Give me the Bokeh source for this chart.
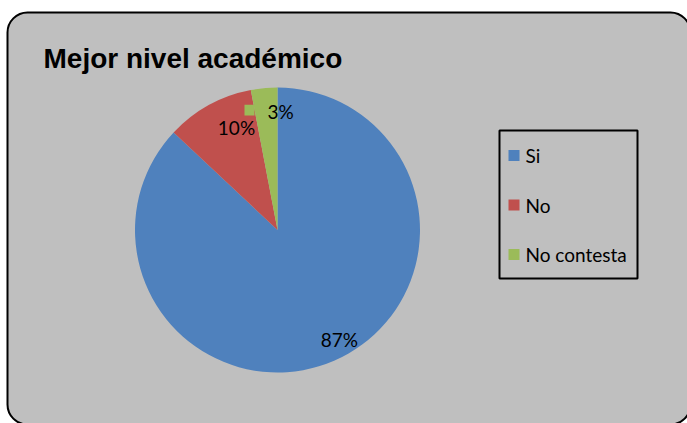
import math
from bokeh.plotting import figure
from bokeh.models import Range1d, BoxAnnotation, Label, ColumnDataSource
from bokeh.core.properties import value
from bokeh.embed import file_html
from bokeh.resources import INLINE

# ---- data ----
categories = ["Si", "No", "No contesta"]
percents = [87, 10, 3]
colors = ["#4F81BD", "#C0504D", "#9BBB59"]
pct_labels = ["87%", "10%", "3%"]
title_text = "Mejor nivel académico"

W, H = 687, 423
p = figure(width=W, height=H, output_backend="svg", toolbar_location=None,
           x_range=Range1d(0, W), y_range=Range1d(0, H),
           x_axis_type=None, y_axis_type=None, min_border=0)
p.grid.visible = False
p.outline_line_color = None
p.background_fill_color = "white"
p.border_fill_color = "white"


def py(y):  # page y (from top) -> data y
    return H - y


# chart area (rounded box)
p.add_layout(BoxAnnotation(left=7, right=690, top=py(12), bottom=py(424),
                           fill_color="#BFBFBF", fill_alpha=1,
                           line_color="black", line_alpha=1, line_width=2,
                           border_radius=20, level="underlay"))

# title
p.add_layout(Label(x=43, y=py(57.5), text=title_text, text_font="Liberation Sans",
                   text_font_style="bold", text_font_size="28px",
                   text_color="black", text_baseline="alphabetic"))

# pie
cx, cy, r = 277, py(229.5), 142.5
total = sum(percents)
starts, ends, mids = [], [], []
acc = 0.0
for v in percents:
    a0 = math.pi / 2 - 2 * math.pi * acc / total
    acc += v
    a1 = math.pi / 2 - 2 * math.pi * acc / total
    starts.append(a0)
    ends.append(a1)
    mids.append((a0 + a1) / 2)

src = ColumnDataSource(dict(cat=categories, val=percents, color=colors,
                            start=starts, end=ends))
p.wedge(x=cx, y=cy, radius=r, start_angle="start", end_angle="end",
        direction="clock", fill_color="color", line_color=None, source=src)

# small green label artifact near the 3% label (attached to the green slice)
p.add_layout(BoxAnnotation(left=244, right=254, top=py(104.3), bottom=py(115),
                           fill_color=colors[2], fill_alpha=1, line_alpha=0))

# percentage labels (placed along the slice mid-angle, with fine nudges)
rad_frac = [0.883, 0.775, 0.832]
ang_nudge = [0.106, -0.122, -0.12]
lx, ly = [], []
for m, f, dn in zip(mids, rad_frac, ang_nudge):
    a = m + dn
    lx.append(cx + r * f * math.cos(a))
    ly.append(cy + r * f * math.sin(a))
p.text(x=lx, y=ly, text=pct_labels, text_font=value("Lato"),
       text_font_size="19px", text_color="black",
       text_align="center", text_baseline="middle")

# legend (drawn manually)
leg_left, leg_right, leg_top, leg_bottom = 499, 637, py(130), py(278)
p.add_layout(BoxAnnotation(left=leg_left, right=leg_right, top=leg_top,
                           bottom=leg_bottom, fill_alpha=0,
                           line_color="black", line_alpha=1, line_width=2))
item_y = [leg_top - 25 - 49.5 * i for i in range(len(categories))]
p.rect(x=[leg_left + 14.5] * len(categories), y=item_y, width=11, height=11,
       fill_color=colors, line_color=None)
p.text(x=[leg_left + 26] * len(categories), y=item_y, text=categories,
       text_font=value("Lato"), text_font_size="19px", text_color="black",
       text_align="left", text_baseline="middle")

open("out.html", "w").write(file_html(p, INLINE))
